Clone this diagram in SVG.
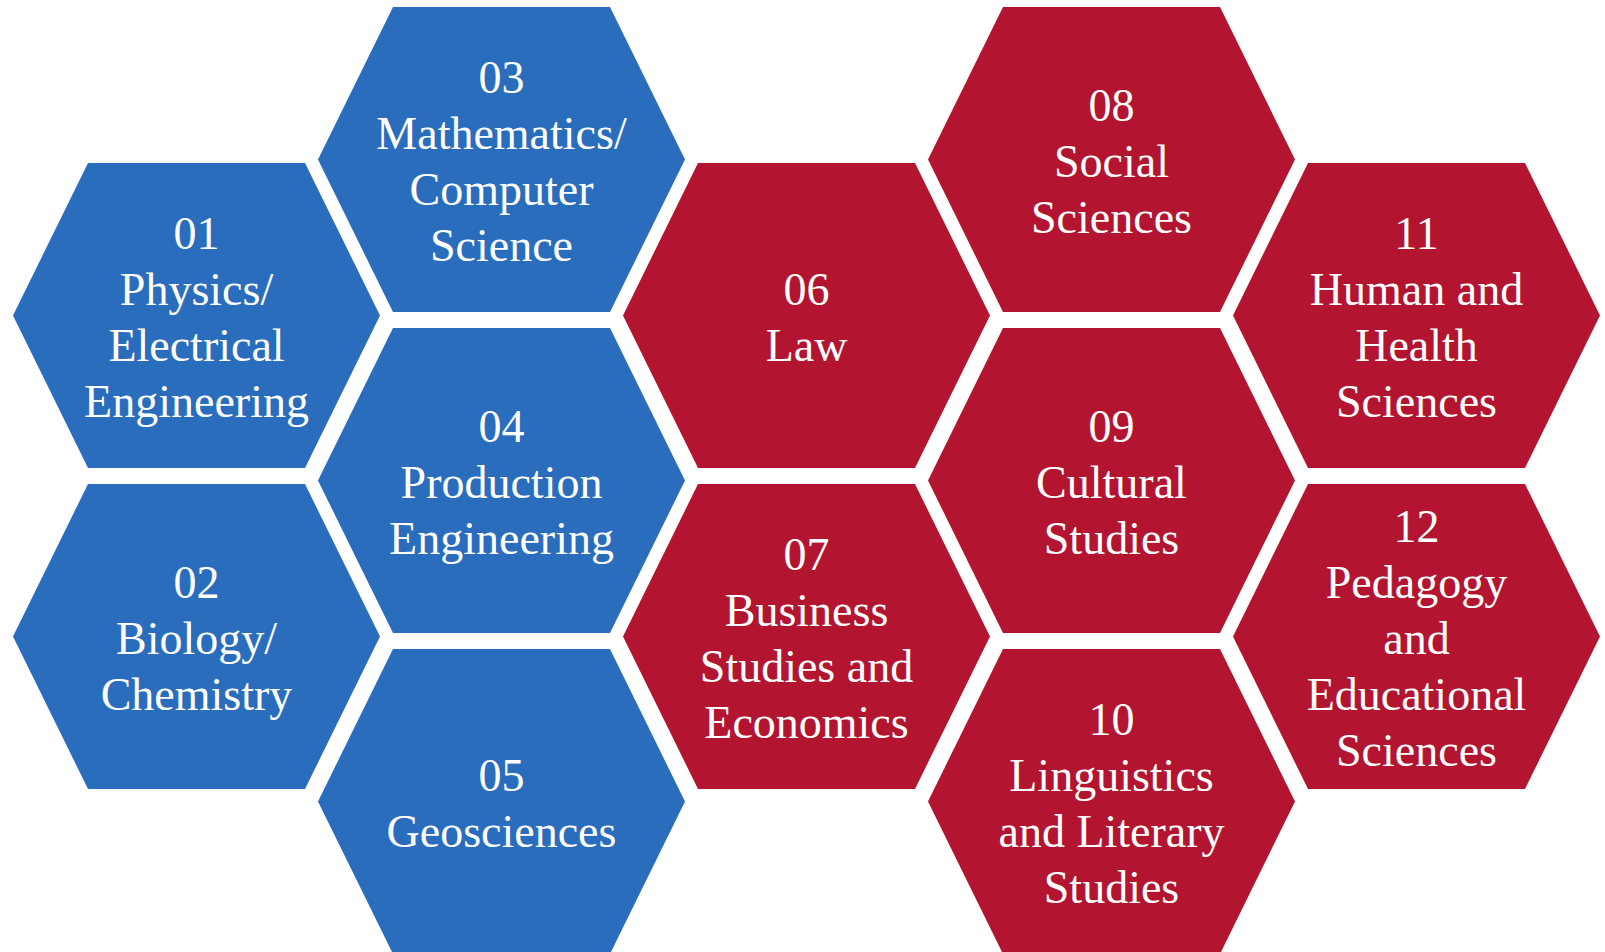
<svg xmlns="http://www.w3.org/2000/svg" xmlns:xlink="http://www.w3.org/1999/xlink" width="1605" height="952" viewBox="0 0 1605 952">
<style>
.blue{fill:#2A6DBD}
.red{fill:#B31530}
text{font-family:"Liberation Serif","Times New Roman",serif;font-size:46px;fill:#FFFFFF;text-anchor:middle}
</style>
<defs>
<path id="hex" d="M0,152.5 L75,0 L292,0 L367,152.5 L292,305 L75,305 Z"/>
</defs>
<rect width="1605" height="952" fill="#FFFFFF"/>
<g id="connectors"></g>
<g transform="translate(0,2)">
<g id="n01"><use xlink:href="#hex" href="#hex" x="13" y="161" class="blue"/>
<text x="196.5" y="246.5">01</text><text x="196.5" y="302.5">Physics/</text><text x="196.5" y="358.5">Electrical</text><text x="196.5" y="414.5">Engineering</text></g>
<g id="n02"><use xlink:href="#hex" href="#hex" x="13" y="482" class="blue"/>
<text x="196.5" y="595.5">02</text><text x="196.5" y="651.5">Biology/</text><text x="196.5" y="707.5">Chemistry</text></g>
<g id="n03"><use xlink:href="#hex" href="#hex" x="318" y="5" class="blue"/>
<text x="501.5" y="90.5">03</text><text x="501.5" y="146.5">Mathematics/</text><text x="501.5" y="202.5">Computer</text><text x="501.5" y="258.5">Science</text></g>
<g id="n04"><use xlink:href="#hex" href="#hex" x="318" y="326" class="blue"/>
<text x="501.5" y="439.5">04</text><text x="501.5" y="495.5">Production</text><text x="501.5" y="551.5">Engineering</text></g>
<g id="n05"><use xlink:href="#hex" href="#hex" x="318" y="647" class="blue"/>
<text x="501.5" y="788.5">05</text><text x="501.5" y="844.5">Geosciences</text></g>
<g id="n06"><use xlink:href="#hex" href="#hex" x="623" y="161" class="red"/>
<text x="806.5" y="302.5">06</text><text x="806.5" y="358.5">Law</text></g>
<g id="n07"><use xlink:href="#hex" href="#hex" x="623" y="482" class="red"/>
<text x="806.5" y="567.5">07</text><text x="806.5" y="623.5">Business</text><text x="806.5" y="679.5">Studies and</text><text x="806.5" y="735.5">Economics</text></g>
<g id="n08"><use xlink:href="#hex" href="#hex" x="928" y="5" class="red"/>
<text x="1111.5" y="118.5">08</text><text x="1111.5" y="174.5">Social</text><text x="1111.5" y="230.5">Sciences</text></g>
<g id="n09"><use xlink:href="#hex" href="#hex" x="928" y="326" class="red"/>
<text x="1111.5" y="439.5">09</text><text x="1111.5" y="495.5">Cultural</text><text x="1111.5" y="551.5">Studies</text></g>
<g id="n10"><use xlink:href="#hex" href="#hex" x="928" y="647" class="red"/>
<text x="1111.5" y="732.5">10</text><text x="1111.5" y="788.5">Linguistics</text><text x="1111.5" y="844.5">and Literary</text><text x="1111.5" y="900.5">Studies</text></g>
<g id="n11"><use xlink:href="#hex" href="#hex" x="1233" y="161" class="red"/>
<text x="1416.5" y="246.5">11</text><text x="1416.5" y="302.5">Human and</text><text x="1416.5" y="358.5">Health</text><text x="1416.5" y="414.5">Sciences</text></g>
<g id="n12"><use xlink:href="#hex" href="#hex" x="1233" y="482" class="red"/>
<text x="1416.5" y="539.5">12</text><text x="1416.5" y="595.5">Pedagogy</text><text x="1416.5" y="651.5">and</text><text x="1416.5" y="707.5">Educational</text><text x="1416.5" y="763.5">Sciences</text></g>
</g>
</svg>
